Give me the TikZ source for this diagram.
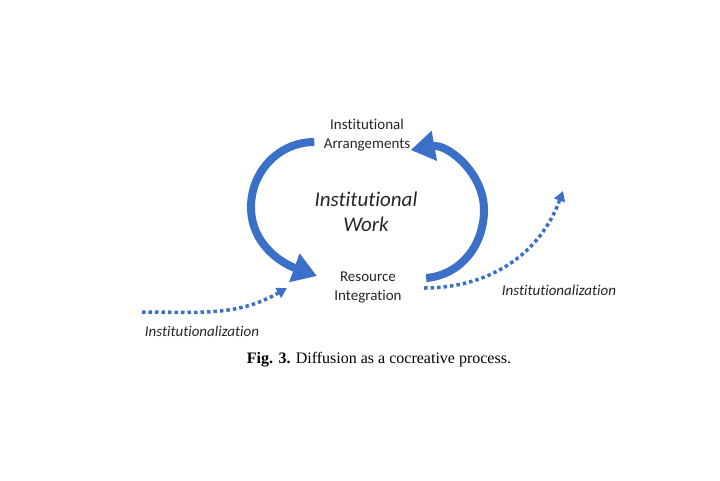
\documentclass[tikz,border=0pt]{standalone}
\usepackage{fontspec}
\setmainfont{Liberation Serif}
\newfontfamily\calib[Ligatures=NoCommon]{Carlito}
\usetikzlibrary{arrows.meta,positioning}
\definecolor{flowblue}{RGB}{58,112,200}

\begin{document}
\begin{tikzpicture}[x=1pt,y=1pt,
    lbl/.style={font=\calib\fontsize{15}{19}\selectfont,align=center,text=black!85},
    work/.style={font=\calib\itshape\fontsize{21}{25}\selectfont,align=center,text=black!85},
    inst/.style={font=\calib\itshape\fontsize{15}{18}\selectfont,text=black!85},
    flow/.style={draw=flowblue,line width=8pt,-{Triangle[length=24pt,width=29pt]}},
    diffuse/.style={draw=flowblue,line width=3.5pt,dash pattern=on 3.5pt off 3pt,
        -{Triangle[length=10pt,width=11pt]}}]
    \useasboundingbox (0,0) rectangle (720,-480);
    \node [lbl] (arr) at (367,-135) {Institutional\\Arrangements};
    \node [work] (work) at (366,-212) {Institutional\\Work};
    \node [lbl] (res) at (368,-287) {Resource\\Integration};
    \node [inst] (instl) at (202,-331) {Institutionalization};
    \node [inst] (instr) at (559,-290) {Institutionalization};
    \coordinate (startl) at (142,-312);
    \coordinate (endr) at (563,-191);
    % the cycle of institutional work
    \draw [flow] ([shift={(-6,-7)}]arr.west) to[out=180,in=90] (251,-207)
        to[out=-90,in=160] ([shift={(-14,11)}]res.west);
    \draw [flow] ([shift={(21,9)}]res.east) to[out=5,in=-90] (484,-210)
        to[out=90,in=10] ([shift={(-3,-15)}]arr.east);
    % diffusion
    \draw [diffuse] (startl) to[out=0,in=210] ([shift={(-44,-1)}]res.west);
    \draw [diffuse] ([shift={(19,-1)}]res.east) to[out=0,in=250] (endr);
    \node [anchor=north] (cap) at (379,-349)
        {\fontsize{16}{19}\selectfont\textbf{Fig. 3.} Diffusion as a cocreative process.};
\end{tikzpicture}
\end{document}
